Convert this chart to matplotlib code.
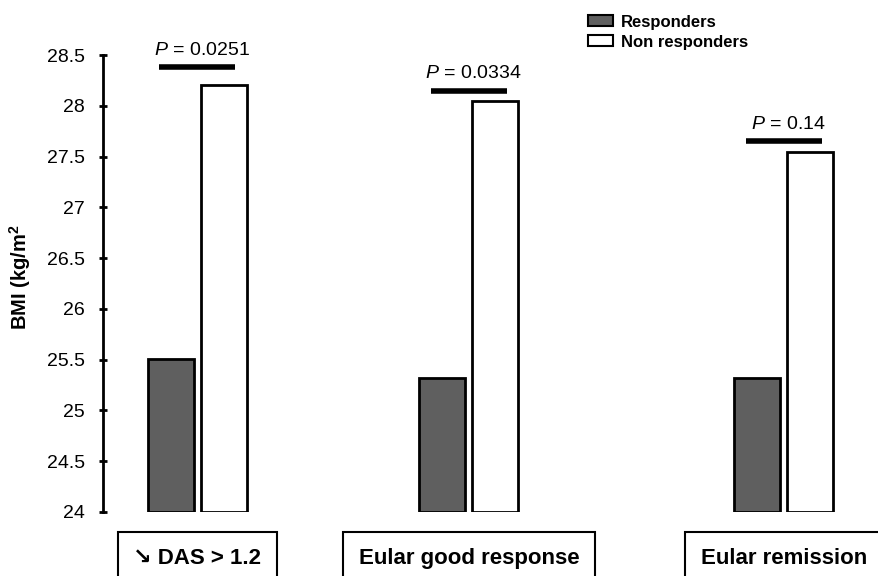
import matplotlib
matplotlib.use("Agg")
import matplotlib.pyplot as plt
from matplotlib.patches import Patch
import matplotlib.transforms as mtransforms

plt.rcParams['font.family'] = ['Liberation Sans', 'DejaVu Sans']
plt.rcParams['mathtext.fontset'] = 'custom'
plt.rcParams['mathtext.rm'] = 'Liberation Sans'
plt.rcParams['mathtext.it'] = 'Liberation Sans:italic'
plt.rcParams['mathtext.bf'] = 'Liberation Sans:bold'

# ---- data ----
categories = ["\u2198 DAS > 1.2", "Eular good response", "Eular remission"]
responders = [25.51, 25.32, 25.32]
non_responders = [28.20, 28.05, 27.54]
p_labels = ["0.0251", "0.0334", "0.14"]
p_line_y = [28.38, 28.15, 27.65]
yticks = [24, 24.5, 25, 25.5, 26, 26.5, 27, 27.5, 28, 28.5]
ytick_labels = ["24", "24.5", "25", "25.5", "26", "26.5", "27", "27.5", "28", "28.5"]

# ---- layout ----
W, H = 879, 576
fig = plt.figure(figsize=(W / 100, H / 100), dpi=100)
ax = fig.add_axes([103 / W, (H - 512) / H, (W - 103) / W, (512 - 55) / H])

centers = [0.0, 1.0, 2.16]
unit = 271.5  # px per x unit
bw = 46 / unit
off = 26.5 / unit

dark = "#5f5f5f"
for c, r, n in zip(centers, responders, non_responders):
    ax.bar(c - off, r - 24, bottom=24, width=bw, color=dark, edgecolor="black", linewidth=2)
    ax.bar(c + off, n - 24, bottom=24, width=bw, color="white", edgecolor="black", linewidth=2)

half = 38 / unit
for c, p, ly in zip(centers, p_labels, p_line_y):
    ax.plot([c - half, c + half], [ly, ly], color="black", linewidth=4, solid_capstyle="butt",
            clip_on=False)
    ax.annotate(r"$\it{P}$ = " + p, xy=(c + 4 / unit, ly), xytext=(0, 6),
                textcoords="offset points", ha="center", va="bottom", fontsize=14,
                annotation_clip=False)

ax.set_xlim((103 - 197.5) / unit, (879 - 197.5) / unit)
ax.set_ylim(24, 28.5)
ax.set_yticks(yticks)
ax.set_yticklabels(ytick_labels, fontsize=14)
ax.tick_params(axis="y", direction="inout", length=6, width=2, pad=10)
ax.set_xticks([])
for s in ["top", "right", "bottom"]:
    ax.spines[s].set_visible(False)
ax.spines["left"].set_linewidth(2)

# category boxes
trans = mtransforms.blended_transform_factory(ax.transData, fig.transFigure)
for c, lab in zip(centers, categories):
    ax.text(c, (H - 564) / H, lab, transform=trans, ha="center", va="baseline",
            fontsize=16, fontweight="bold", clip_on=False,
            bbox=dict(boxstyle="square,pad=0.7", facecolor="white", edgecolor="black",
                      linewidth=1.5))

fig.text(20 / W, (H - 277) / H, r"BMI (kg/m$^\mathbf{2}$", rotation=90, ha="center",
         va="center", fontsize=14.5, fontweight="bold")

handles = [Patch(facecolor=dark, edgecolor="black", linewidth=1.5, label="Responders"),
           Patch(facecolor="white", edgecolor="black", linewidth=1.5, label="Non responders")]
leg = fig.legend(handles=handles, loc="upper left", bbox_to_anchor=(576 / W, 1 - 3 / H),
                 frameon=False, prop={"weight": "bold", "size": 12}, handlelength=1.5,
                 handleheight=0.6, handletextpad=0.5, labelspacing=0.3, borderpad=0.2)

fig.savefig("out.png", dpi=100)
